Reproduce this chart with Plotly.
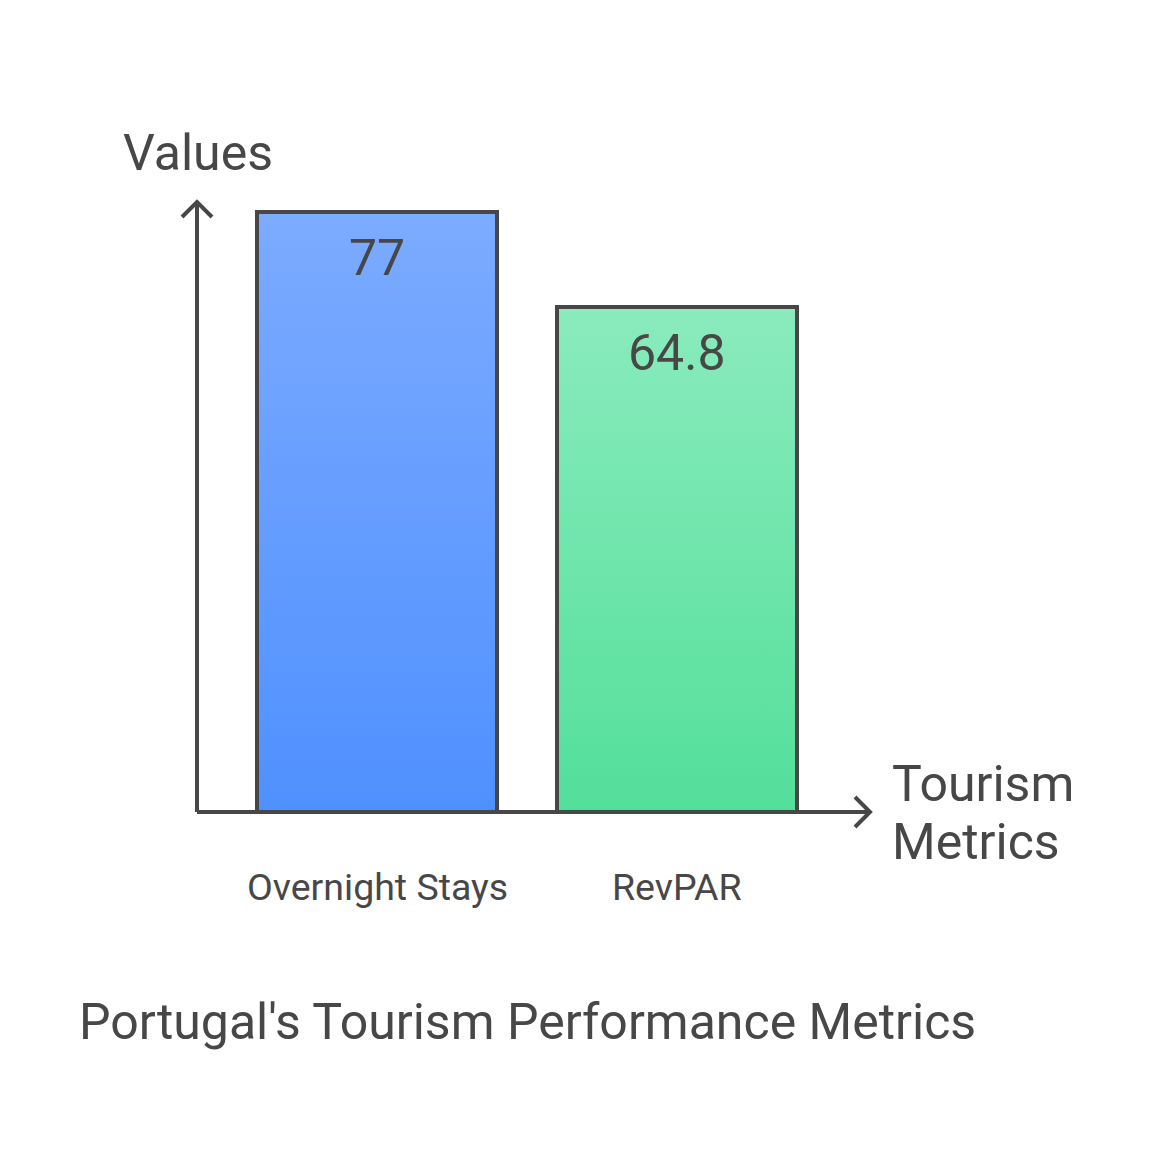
import plotly.graph_objects as go

categories = ["Overnight Stays", "RevPAR"]
values = [77, 64.8]
value_labels = ["77", "64.8"]
top_colors = ["#7CABFF", "#8AEBBD"]
bottom_colors = ["#4F90FF", "#53DF9A"]
title_text = "Portugal's Tourism Performance Metrics"
y_title = "Values"
x_title_lines = ["Tourism", "Metrics"]

W, H = 1160, 1175
INK = "#474747"
FONT = "Roboto, sans-serif"
OFF = 8  # page body margin

# pixel <-> data mapping (plot area = full figure)
PX_PER_X = 300.0
X0_PX = 377.0 - OFF
PX_PER_Y = 600.0 / 77.0
Y0_PX = 812.0 - OFF
xr = [(0 - X0_PX) / PX_PER_X, (W - X0_PX) / PX_PER_X]
yr = [-(H - Y0_PX) / PX_PER_Y, Y0_PX / PX_PER_Y]

def dx(px):
    return (px - OFF - X0_PX) / PX_PER_X

def dy(py):
    return (Y0_PX - (py - OFF)) / PX_PER_Y

fig = go.Figure()
bw = 0.8
xs = list(range(len(categories)))
for i, (v, tc, bc) in enumerate(zip(values, top_colors, bottom_colors)):
    x = xs[i]
    fig.add_trace(go.Scatter(
        x=[x - bw / 2, x + bw / 2, x + bw / 2, x - bw / 2, x - bw / 2],
        y=[0, 0, v, v, 0],
        mode="lines", fill="toself",
        line=dict(color=INK, width=4),
        fillgradient=dict(type="vertical", colorscale=[[0, bc], [1, tc]]),
        hoverinfo="skip", showlegend=False,
    ))
    fig.add_annotation(x=x, y=v, yshift=-46, text=value_labels[i], showarrow=False,
                       font=dict(family=FONT, size=50, color=INK), xanchor="center", yanchor="middle")
    fig.add_annotation(x=x, y=dy(887), text=categories[i], showarrow=False,
                       font=dict(family=FONT, size=37.5, color=INK), xanchor="center", yanchor="middle")

# axes with arrows
axis_line = dict(color=INK, width=4)
fig.add_shape(type="line", x0=dx(197), y0=dy(812), x1=dx(197), y1=dy(203), line=axis_line)
fig.add_shape(type="path", path=f"M {dx(182)} {dy(217)} L {dx(197)} {dy(202)} L {dx(212)} {dy(217)}", line=axis_line)
fig.add_shape(type="line", x0=dx(197), y0=dy(812), x1=dx(869), y1=dy(812), line=axis_line)
fig.add_shape(type="path", path=f"M {dx(855)} {dy(797)} L {dx(870)} {dy(812)} L {dx(855)} {dy(827)}", line=axis_line)

fig.add_annotation(x=dx(121), y=dy(153), text=y_title, showarrow=False, xanchor="left", yanchor="middle",
                   font=dict(family=FONT, size=50, color=INK))
for j, line_txt in enumerate(x_title_lines):
    fig.add_annotation(x=dx(890), y=dy(784 + 58 * j), text=line_txt, showarrow=False, xanchor="left",
                       yanchor="middle", font=dict(family=FONT, size=50, color=INK))
fig.add_annotation(x=dx(77), y=dy(1022), text=title_text, showarrow=False, xanchor="left", yanchor="middle",
                   font=dict(family=FONT, size=50, color=INK))

fig.update_layout(
    width=W, height=H, margin=dict(l=0, r=0, t=0, b=0),
    paper_bgcolor="white", plot_bgcolor="white", showlegend=False,
    xaxis=dict(range=xr, visible=False, fixedrange=True),
    yaxis=dict(range=yr, visible=False, fixedrange=True),
)
fig.write_html("out.html")
